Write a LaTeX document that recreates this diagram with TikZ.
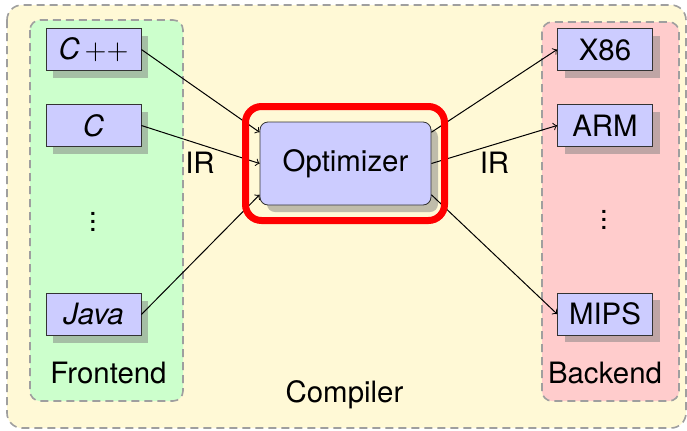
\documentclass[tikz,border=0pt]{standalone}
\usepackage{fontspec}
\setmainfont{TeX Gyre Heros}
\usetikzlibrary{shadows}

\definecolor{compbg}{RGB}{255,249,214}
\tikzset{
	group/.style={draw=gray!75,dashed,dash pattern=on 4pt off 2.5pt,line width=.8pt,rounded corners=5pt},
	lang/.style={draw=black!80,fill=blue!20,minimum width=47.5pt,minimum height=21pt,inner sep=0pt,
		drop shadow={shadow xshift=3.5pt,shadow yshift=-3.5pt}},
	conn/.style={->,line width=.5pt}
}

\begin{document}
\begin{tikzpicture}[x=0.5pt,y=-0.5pt,font=\fontsize{14.7}{17.5}\selectfont]
	\useasboundingbox (0,0) rectangle (687,430);
	% the three groups
	\draw[group,fill=compbg,rounded corners=7.5pt] (7,5) rectangle (686,428);
	\draw[group,fill=green!20] (30,20) rectangle (183,401);
	\draw[group,fill=red!20] (542,22) rectangle (679,401);
	\node[anchor=base] at (108.5,383) {Frontend};
	\node[anchor=base] at (605,383) {Backend};
	\node[anchor=base] at (344.5,402) {Compiler};

	% front ends
	\node[lang] (cpp) at (93.5,49.5) {{\itshape C}\,\(++\)};
	\node[lang] (c) at (93.5,125.5) {\itshape C};
	\node[inner sep=0pt] (ldots) at (93,216) {$\vdots$};
	\node[lang] (java) at (93.5,314.5) {\itshape Java};

	% back ends
	\node[lang] (x86) at (605,49.5) {X86};
	\node[lang] (arm) at (605,125.5) {ARM};
	\node[inner sep=0pt] (rdots) at (604,214) {$\vdots$};
	\node[lang] (mips) at (605,314) {MIPS};

	% optimizer
	\node[draw=black!80,fill=blue!20,rounded corners=4pt,minimum width=85.5pt,minimum height=41.5pt,
		drop shadow={shadow xshift=3.5pt,shadow yshift=-3.5pt}] (opt) at (345.5,163.5) {Optimizer};

	\draw[conn] (cpp.east) -- (opt.160);
	\draw[conn] (c.east) -- (opt.west);
	\draw[conn] (java.east) -- (opt.200);
	\draw[conn] (opt.20) -- (x86.west);
	\draw[conn] (opt.east) -- (arm.west);
	\draw[conn] (opt.-20) -- (mips.west);

	\node (irl) at (200,163) {IR};
	\node (irr) at (494.5,163) {IR};

	\draw[red,line width=3.5pt,rounded corners=8pt] (245.5,106.5) rectangle (444.5,220.5);
\end{tikzpicture}
\end{document}
